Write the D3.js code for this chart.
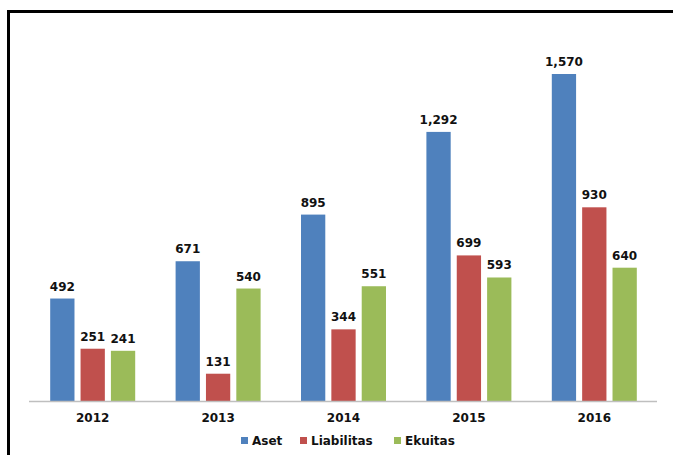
<!DOCTYPE html>
<html>
<head>
<meta charset="utf-8">
<script src="https://cdn.jsdelivr.net/npm/d3@7/dist/d3.min.js"></script>
<style>
  body { margin: 0; background: #fff; }
  text { font-family: "DejaVu Sans", Verdana, sans-serif; font-weight: bold; fill: #111; }
</style>
</head>
<body>
<div class="chart"></div>
<script>
const width = 673,
      height = 455;

const years = ["2012", "2013", "2014", "2015", "2016"];
const series = ["Aset", "Liabilitas", "Ekuitas"];
const aset = [492, 671, 895, 1292, 1570];
const liabilitas = [251, 131, 344, 699, 930];
const ekuitas = [241, 540, 551, 593, 640];
const colors = ["#4F81BD", "#C0504D", "#9BBB59"];

const values = [aset, liabilitas, ekuitas];
const rows = years.map((y, i) => ({year: y, vals: series.map((s, j) => ({key: s, value: values[j][i]}))}));

const svg = d3.select(".chart")
              .append("svg")
              .attr("width", width)
              .attr("height", height);

// outer frame (runs off the right and bottom edges)
svg.append("rect")
   .attr("x", 8.5).attr("y", 11.5)
   .attr("width", 700).attr("height", 500)
   .attr("fill", "none")
   .attr("stroke", "#000")
   .attr("stroke-width", 3);

const baseY = 401;
const x = d3.scaleBand().domain(years).range([30, 657]);
const y = d3.scaleLinear().domain([0, 1570]).range([baseY, 74]);
const xs = d3.scaleBand().domain(series).range([0, 85]).paddingInner(0.2);

var g = svg.append("g").classed("bars", true);
var grp = g.selectAll("g").data(rows).enter().append("g")
           .attr("transform", d => "translate(" + (x(d.year) + x.bandwidth() / 2 - 42.5) + ",0)");

grp.selectAll("rect").data(d => d.vals).enter().append("rect")
   .attr("x", d => xs(d.key))
   .attr("y", d => y(d.value))
   .attr("width", xs.bandwidth())
   .attr("height", d => baseY - y(d.value))
   .attr("fill", (d, i) => colors[i]);

grp.selectAll("text").data(d => d.vals).enter().append("text")
   .attr("x", d => xs(d.key) + xs.bandwidth() / 2)
   .attr("y", d => y(d.value) - 8)
   .attr("text-anchor", "middle")
   .style("font-size", "12px")
   .text(d => d3.format(",")(d.value));

// x axis
svg.append("line")
   .attr("x1", 29).attr("x2", 657)
   .attr("y1", baseY + 0.5).attr("y2", baseY + 0.5)
   .attr("stroke", "#bfbfbf").attr("stroke-width", 1.5);

svg.append("g").selectAll("text").data(years).enter().append("text")
   .attr("x", d => x(d) + x.bandwidth() / 2)
   .attr("y", 422)
   .attr("text-anchor", "middle")
   .style("font-size", "12px")
   .text(d => d);

// legend
const legX = [241, 300, 394];
var leg = svg.append("g").classed("legend", true)
             .selectAll("g").data(series).enter().append("g")
             .attr("transform", (d, i) => "translate(" + legX[i] + ",437)");
leg.append("rect").attr("width", 7).attr("height", 7).attr("fill", (d, i) => colors[i]);
leg.append("text").attr("x", 11).attr("y", 8).style("font-size", "12px").text(d => d);
</script>
</body>
</html>
